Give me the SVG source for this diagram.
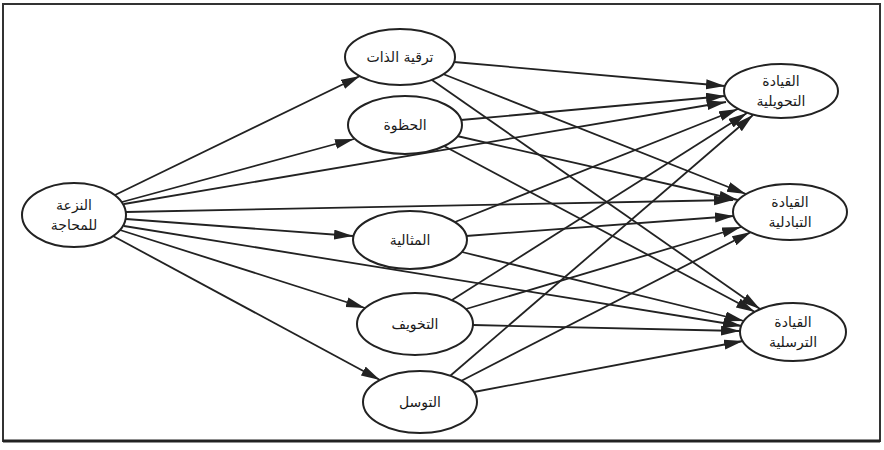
<svg xmlns="http://www.w3.org/2000/svg" width="884" height="450" viewBox="0 0 884 450">
<defs>
<marker id="ah" markerUnits="userSpaceOnUse" markerWidth="22" markerHeight="12" refX="19" refY="5" orient="auto">
<path d="M0,0 L19,5 L0,10 z" fill="#222"/>
</marker>
<style>
.n ellipse{fill:#fff;stroke:#222;stroke-width:2}
.n text{font-family:"DejaVu Sans","Noto Sans",sans-serif;font-size:14px;fill:#1a1a1a;text-anchor:middle}
#edges line{stroke:#222;stroke-width:1.8;marker-end:url(#ah)}
</style>
</defs>
<rect x="0" y="0" width="884" height="450" fill="#fff"/>
<rect x="3" y="4" width="877" height="437" fill="none" stroke="#333" stroke-width="2"/>
<line x1="3" y1="441" x2="880" y2="441" stroke="#222" stroke-width="3"/>
<g id="edges">
<line x1="115" y1="195" x2="360" y2="76"/>
<line x1="122" y1="202" x2="354" y2="139"/>
<line x1="126" y1="219" x2="353" y2="236"/>
<line x1="120" y1="230" x2="365" y2="308"/>
<line x1="113" y1="236" x2="380" y2="380"/>
<line x1="124" y1="204" x2="726" y2="102"/>
<line x1="126" y1="212" x2="733" y2="200"/>
<line x1="124" y1="226" x2="742" y2="326"/>
<line x1="454" y1="62" x2="725" y2="86"/>
<line x1="443" y1="74" x2="746" y2="194"/>
<line x1="432" y1="80" x2="760" y2="309"/>
<line x1="461" y1="120" x2="725" y2="96"/>
<line x1="457" y1="136" x2="738" y2="200"/>
<line x1="444" y1="146" x2="755" y2="312"/>
<line x1="455" y1="222" x2="738" y2="109"/>
<line x1="466" y1="236" x2="734" y2="216"/>
<line x1="462" y1="252" x2="744" y2="321"/>
<line x1="452" y1="300" x2="747" y2="113"/>
<line x1="466" y1="309" x2="741" y2="227"/>
<line x1="473" y1="325" x2="740" y2="331"/>
<line x1="450" y1="376" x2="753" y2="115"/>
<line x1="461" y1="381" x2="751" y2="232"/>
<line x1="474" y1="392" x2="743" y2="341"/>
</g>
<g id="n-l" class="n"><ellipse cx="74" cy="215" rx="52" ry="32"/><text x="74" y="210">النزعة</text><text x="74" y="230">للمحاجة</text></g>
<g id="n-m1" class="n"><ellipse cx="400" cy="57" rx="55" ry="28"/><text x="400" y="62">ترقية الذات</text></g>
<g id="n-m2" class="n"><ellipse cx="405" cy="125" rx="57" ry="29"/><text x="405" y="130">الحظوة</text></g>
<g id="n-m3" class="n"><ellipse cx="410" cy="240" rx="57" ry="29"/><text x="410" y="245">المثالية</text></g>
<g id="n-m4" class="n"><ellipse cx="415" cy="324" rx="58" ry="31"/><text x="415" y="329">التخويف</text></g>
<g id="n-m5" class="n"><ellipse cx="420" cy="402" rx="57" ry="31"/><text x="420" y="407">التوسل</text></g>
<g id="n-r1" class="n"><ellipse cx="781" cy="91" rx="57" ry="27"/><text x="781" y="86">القيادة</text><text x="781" y="106">التحويلية</text></g>
<g id="n-r2" class="n"><ellipse cx="790" cy="212" rx="57" ry="28"/><text x="790" y="207">القيادة</text><text x="790" y="227">التبادلية</text></g>
<g id="n-r3" class="n"><ellipse cx="793" cy="332" rx="53" ry="29"/><text x="793" y="327">القيادة</text><text x="793" y="347">الترسلية</text></g>
</svg>
